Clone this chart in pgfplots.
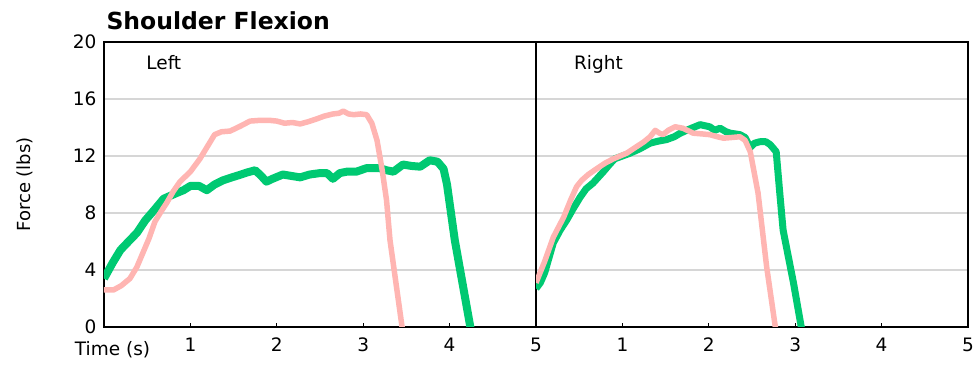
\documentclass[border=0pt]{standalone}
\usepackage{fontspec}
\setmainfont{DejaVu Sans}
\usepackage{pgfplots}
\pgfplotsset{compat=1.18}
\definecolor{pinkc}{RGB}{255,181,178}
\definecolor{greenc}{RGB}{0,201,114}
\definecolor{gridc}{RGB}{214,214,214}
\pgfplotsset{
  panel/.style={
    width=432pt, height=285pt, scale only axis,
    xmin=0, xmax=5, ymin=0, ymax=20,
    xtick={0,1,2,3,4,5},
    ytick={0,4,8,12,16,20},
    ymajorgrids, grid style={gridc, line width=1.4pt},
    axis line style={black, line width=1.8pt},
    tick style={black, line width=1.2pt},
    xtick pos=bottom, xtick align=inside,
    major tick length=4pt,
    ytick style={draw=none},
    ytick pos=left,
    /pgf/number format/assume math mode=true,
    tick label style={font=\fontsize{18.5}{21}\selectfont},
    xticklabel style={yshift=-7pt},
    yticklabel style={xshift=-4pt},
    clip=true,
  },
}
\begin{document}
\begin{tikzpicture}
\begin{axis}[panel, at={(0pt,0pt)}, anchor=south west,
  xticklabels={,1,2,3,4,5},
]
\addplot[greenc, line width=8pt, line join=round] coordinates {
(0,3.4)(0.1,4.5)(0.19,5.4)(0.3,6.1)(0.38,6.6)(0.48,7.5)(0.58,8.2)(0.69,9.0)(0.84,9.4)(0.92,9.6)(1.0,9.9)(1.1,9.9)(1.19,9.6)(1.28,10.0)(1.38,10.3)(1.48,10.5)(1.57,10.67)(1.66,10.85)(1.75,11.0)(1.82,10.6)(1.88,10.2)(1.95,10.4)(2.07,10.7)(2.17,10.6)(2.27,10.5)(2.38,10.7)(2.5,10.8)(2.58,10.8)(2.65,10.4)(2.73,10.8)(2.81,10.9)(2.92,10.9)(3.04,11.15)(3.19,11.15)(3.27,11.0)(3.35,10.9)(3.46,11.4)(3.56,11.3)(3.66,11.25)(3.77,11.7)(3.86,11.6)(3.93,11.1)(3.97,10.0)(4.0,8.7)(4.06,6.1)(4.24,0)(4.27,-1)
};
\addplot[pinkc, line width=5.5pt, line join=round] coordinates {
(0,2.6)(0.11,2.6)(0.2,2.9)(0.3,3.4)(0.38,4.2)(0.45,5.2)(0.52,6.2)(0.59,7.4)(0.66,8.1)(0.725,8.7)(0.8,9.5)(0.88,10.2)(1.0,10.9)(1.11,11.8)(1.2,12.7)(1.28,13.5)(1.36,13.7)(1.46,13.75)(1.58,14.1)(1.69,14.45)(1.8,14.5)(1.92,14.5)(2.0,14.45)(2.09,14.3)(2.18,14.35)(2.27,14.25)(2.36,14.4)(2.46,14.6)(2.55,14.8)(2.65,14.95)(2.72,15.0)(2.77,15.15)(2.83,14.95)(2.89,14.9)(2.97,14.95)(3.04,14.9)(3.1,14.3)(3.16,13.1)(3.22,11.0)(3.27,8.9)(3.31,6.1)(3.45,0)(3.47,-1)
};
\node[anchor=base west, font=\fontsize{18.5}{21}\selectfont] at (rel axis cs:0.09,0.905) {Left};
\end{axis}
\node[anchor=base, font=\fontsize{18.5}{21}\selectfont] at (8.5pt,-29pt) {Time (s)};
\node[rotate=90, font=\fontsize{18}{21}\selectfont] at (-79pt,142.5pt) {Force (lbs)};
\node[anchor=base west, font=\bfseries\fontsize{23.5}{28}\selectfont] at (-1pt,297pt) {Shoulder Flexion};
\begin{axis}[panel, at={(432pt,0pt)}, anchor=south west,
  xticklabels={,1,2,3,4,5},
  yticklabels={},
]
\addplot[greenc, line width=7pt, line join=round] coordinates {
(0,2.7)(0.05,3.1)(0.1,3.8)(0.2,5.9)(0.28,6.8)(0.355,7.5)(0.43,8.3)(0.51,9.1)(0.58,9.7)(0.66,10.1)(0.72,10.5)(0.78,10.9)(0.85,11.4)(0.91,11.8)(1.0,12.0)(1.09,12.2)(1.2,12.5)(1.32,12.9)(1.42,13.05)(1.51,13.15)(1.6,13.35)(1.67,13.6)(1.78,13.9)(1.9,14.2)(2.01,14.05)(2.07,13.8)(2.13,13.95)(2.2,13.7)(2.25,13.6)(2.36,13.5)(2.42,13.3)(2.48,12.6)(2.53,12.9)(2.59,13.0)(2.66,13.0)(2.71,12.8)(2.78,12.3)(2.82,9.5)(2.86,6.8)(2.98,3.1)(3.07,0)(3.09,-1)
};
\addplot[pinkc, line width=5.5pt, line join=round] coordinates {
(0,3.1)(0.1,4.6)(0.2,6.3)(0.32,7.7)(0.4,8.9)(0.47,9.85)(0.53,10.3)(0.605,10.7)(0.7,11.1)(0.8,11.5)(0.895,11.8)(1.05,12.2)(1.15,12.6)(1.25,13.0)(1.32,13.35)(1.38,13.8)(1.43,13.6)(1.47,13.5)(1.53,13.8)(1.61,14.05)(1.7,13.95)(1.82,13.6)(1.92,13.55)(2.01,13.5)(2.1,13.35)(2.17,13.25)(2.27,13.3)(2.36,13.35)(2.42,13.1)(2.48,12.3)(2.57,9.4)(2.67,4.2)(2.77,0)(2.79,-1)
};
\node[anchor=base west, font=\fontsize{18.5}{21}\selectfont] at (rel axis cs:0.08,0.905) {Right};
\end{axis}
\pgfresetboundingbox
\path (-104pt,-39pt) rectangle (870pt,327pt);
\end{tikzpicture}
\end{document}
